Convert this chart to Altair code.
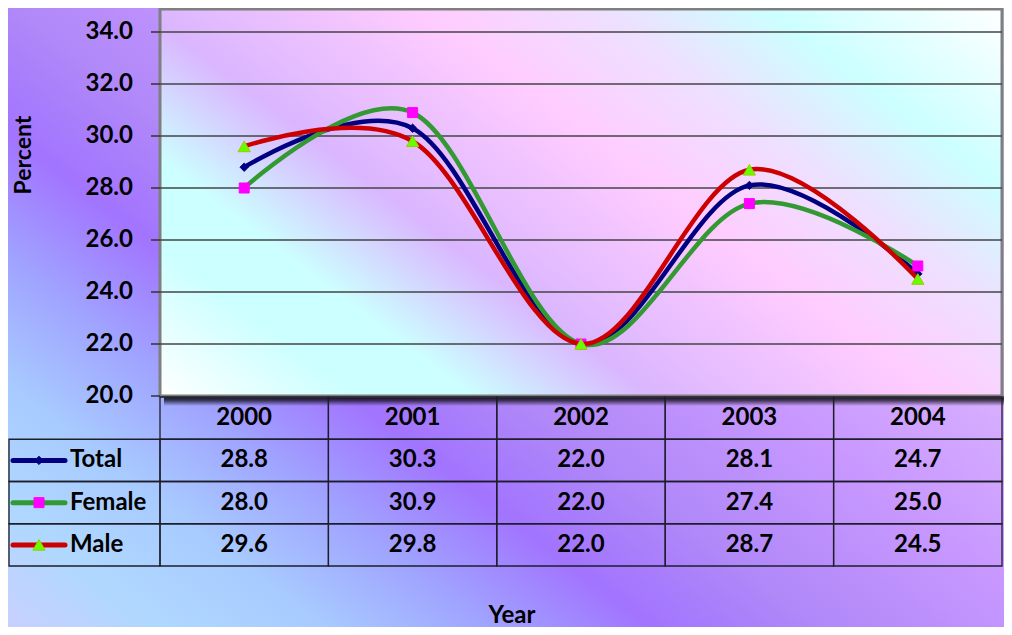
import altair as alt
import pandas as pd

# ---------------- data ----------------
years = ["2000", "2001", "2002", "2003", "2004"]
series = ["Total", "Female", "Male"]
total = [28.8, 30.3, 22.0, 28.1, 24.7]
female = [28.0, 30.9, 22.0, 27.4, 25.0]
male = [29.6, 29.8, 22.0, 28.7, 24.5]
y_ticks = [20, 22, 24, 26, 28, 30, 32, 34]
table_rows = ["header", "Total", "Female", "Male"]

line_colors = {"Total": "#000080", "Female": "#339933", "Male": "#cc0000"}
marker_shapes = {"Total": "diamond", "Female": "square", "Male": "triangle-up"}
marker_fill = {"Total": "#000080", "Female": "#ff00ff", "Male": "#66ff00"}
marker_stroke = {"Total": "#000080", "Female": "#ff00ff", "Male": "#99cc00"}
marker_size = {"Total": 70, "Female": 100, "Male": 150}

values = {"Total": total, "Female": female, "Male": male}
recs = []
for s in series:
    for yr, v in zip(years, values[s]):
        recs.append({"series": s, "row": s, "year": yr, "value": v})
df = pd.DataFrame(recs)
header_df = pd.DataFrame({"year": years, "row": ["header"] * len(years)})
cells_df = pd.DataFrame([{"year": y, "row": r} for r in table_rows for y in years])
legend_df = pd.DataFrame({"row": series, "series": series})
ticks_df = pd.DataFrame({"tick": y_ticks})
grid_df = pd.DataFrame({"tick": y_ticks[1:]})
one = pd.DataFrame({"a": [0]})

W, H = 842, 388
TOTAL_H = 619
FONT = "Lato"


def grad(x1, y1, x2, y2, stops):
    return alt.LinearGradient(
        gradient="linear",
        stops=[alt.GradientStop(offset=o, color=c) for o, c in stops],
        x1=x1, y1=y1, x2=x2, y2=y2,
    )


# ---------------- backgrounds ----------------
outer_bg = alt.Chart(one).mark_rect(
    fill=grad(0, 1, 1.094, 0.116, [
        (0.0, "#c8d0ff"), (0.082, "#b0d8ff"), (0.174, "#a8cbff"),
        (0.266, "#a0a4ff"), (0.357, "#a274ff"), (0.449, "#b088f8"),
        (0.586, "#c898ff"), (0.724, "#d8b0ff"), (0.862, "#c8c0ff"),
        (1.0, "#b0d0ff"),
    ])
).encode(x=alt.value(-152), x2=alt.value(W + 2), y=alt.value(0), y2=alt.value(TOTAL_H))

shadow = alt.Chart(one).mark_rect(
    fill=grad(0, 0, 0, 1, [
        (0.0, "rgba(0,0,0,0.95)"), (0.45, "rgba(0,0,0,0.65)"), (1.0, "rgba(0,0,0,0)"),
    ])
).encode(x=alt.value(4), x2=alt.value(W + 4), y=alt.value(H), y2=alt.value(H + 10))

plot_bg = alt.Chart(one).mark_rect(
    fill=grad(0, 1, 1.176, 0.285, [
        (0.0, "#ffffff"), (0.145, "#ccffff"), (0.23, "#ccffff"),
        (0.363, "#dab6ff"), (0.57, "#ffccff"), (0.704, "#eee0ff"),
        (0.825, "#ccffff"), (1.0, "#ffffff"),
    ]),
    stroke="#7f7f7f", strokeWidth=3,
).encode(x=alt.value(0), x2=alt.value(W), y=alt.value(1), y2=alt.value(H))

# ---------------- plot ----------------
y_scale = alt.Scale(domain=[20, 20 + H / 26.0], zero=False, nice=False)
xp_scale = alt.Scale(type="point", domain=years, range=[0, W], padding=0.5)
x_plot = alt.X("year:O", scale=xp_scale, axis=None)
y_tick = alt.Y("tick:Q", scale=y_scale, axis=None)

grid = alt.Chart(grid_df).mark_rule(color="#444444", strokeWidth=1.5).encode(
    y=y_tick, x=alt.value(0), x2=alt.value(W),
)
tick_marks = alt.Chart(ticks_df).mark_rule(color="#333333", strokeWidth=1.5).encode(
    y=y_tick, x=alt.value(-9), x2=alt.value(0),
)
tick_labels = alt.Chart(ticks_df).mark_text(
    font=FONT, fontSize=24, fontWeight="bold", color="black", align="right", baseline="middle"
).encode(y=y_tick, x=alt.value(-27), text=alt.Text("tick:Q", format=".1f"))

y_title = alt.Chart(one).mark_text(
    text="Percent", font=FONT, fontSize=23, fontWeight="bold", color="black",
    angle=270, align="center", baseline="middle",
).encode(x=alt.value(-136), y=alt.value(147))

series_layers = []
for s in series:
    base = alt.Chart(df[df.series == s])
    ln = base.mark_line(interpolate="cardinal", color=line_colors[s], strokeWidth=4.5).encode(
        x=x_plot, y=alt.Y("value:Q", scale=y_scale, axis=None)
    )
    pt = base.mark_point(
        shape=marker_shapes[s], filled=True, fill=marker_fill[s], stroke=marker_stroke[s],
        strokeWidth=1, size=marker_size[s], opacity=1,
    ).encode(x=x_plot, y=alt.Y("value:Q", scale=y_scale, axis=None))
    series_layers += [ln, pt]

plot_group = alt.layer(shadow, plot_bg, grid, tick_marks, tick_labels, y_title, *series_layers)

# ---------------- data table ----------------
xt_scale = alt.Scale(type="band", domain=years, range=[0, W], paddingInner=0, paddingOuter=0)
x_tab = alt.X("year:O", scale=xt_scale, axis=None)
x_tab_mid = alt.X("year:O", scale=xt_scale, axis=None, bandPosition=0.5)
row_scale = alt.Scale(type="band", domain=table_rows, range=[389, 558], paddingInner=0, paddingOuter=0)
y_cell = alt.Y("row:N", scale=row_scale, axis=None)
y_mid = alt.Y("row:N", scale=row_scale, axis=None, bandPosition=0.5)

cells = alt.Chart(cells_df).mark_rect(fill="transparent", stroke="#1e1e2a", strokeWidth=1.3).encode(
    x=x_tab, y=y_cell
)
left_cells = alt.Chart(legend_df).mark_rect(fill="transparent", stroke="#1e1e2a", strokeWidth=1.3).encode(
    x=alt.value(-151), x2=alt.value(0), y=y_cell
)
header_text = alt.Chart(header_df).mark_text(
    font=FONT, fontSize=24, fontWeight="bold", color="black", baseline="middle"
).encode(x=x_tab_mid, y=y_mid, text="year:N")

value_text = alt.Chart(df).mark_text(
    font=FONT, fontSize=24, fontWeight="bold", color="black", baseline="middle"
).encode(x=x_tab_mid, y=y_mid, text=alt.Text("value:Q", format=".1f"))

legend_layers = []
for s in series:
    ldf = legend_df[legend_df.series == s]
    legend_layers.append(
        alt.Chart(ldf).mark_rule(color=line_colors[s], strokeWidth=5, strokeCap="round").encode(
            x=alt.value(-147), x2=alt.value(-95), y=y_mid
        )
    )
    legend_layers.append(
        alt.Chart(ldf).mark_point(
            shape=marker_shapes[s], filled=True, fill=marker_fill[s], stroke=marker_stroke[s],
            strokeWidth=1, size=marker_size[s], opacity=1,
        ).encode(x=alt.value(-121), y=y_mid)
    )
label_text = alt.Chart(legend_df).mark_text(
    font=FONT, fontSize=24, fontWeight="bold", color="black", align="left", baseline="middle"
).encode(x=alt.value(-90), y=y_mid, text="series:N")

table_group = alt.layer(cells, left_cells, header_text, value_text, *legend_layers, label_text)

year_title = alt.Chart(one).mark_text(
    text="Year", font=FONT, fontSize=24, fontWeight="bold", color="black",
    align="center", baseline="middle",
).encode(x=alt.value(352), y=alt.value(608))

chart = alt.layer(outer_bg, plot_group, table_group, year_title).resolve_scale(
    x="independent", y="independent"
).properties(
    width=W, height=H,
    padding={"left": 152, "top": 0, "right": 2, "bottom": TOTAL_H - H},
    autosize=alt.AutoSizeParams(type="none"),
    background="white",
).configure_view(stroke=None)

chart.save("out.html", embed_options={"renderer": "svg", "actions": False})
